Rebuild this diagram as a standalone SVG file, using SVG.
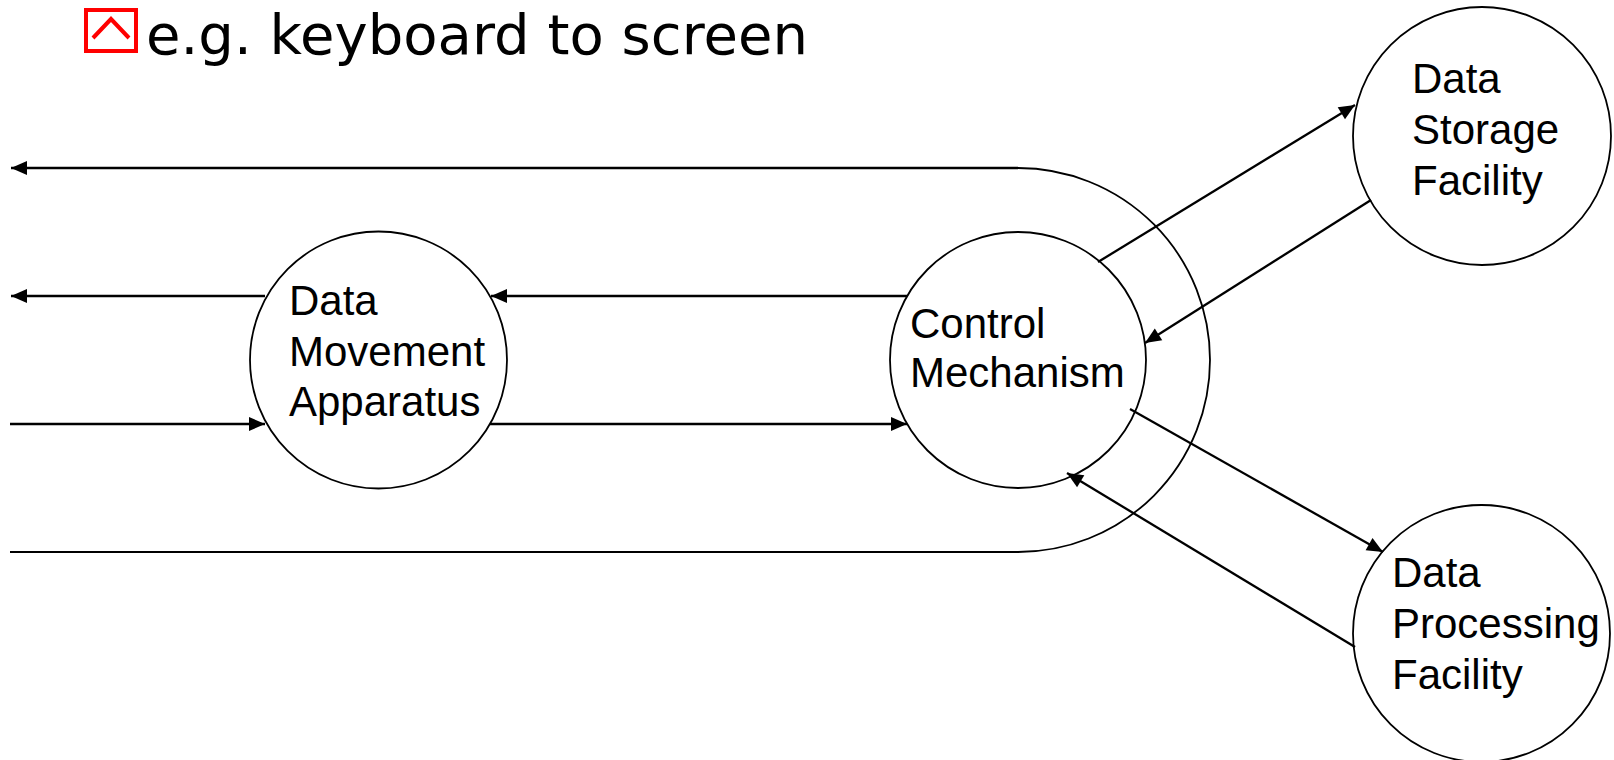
<svg xmlns="http://www.w3.org/2000/svg" width="1614" height="760" viewBox="0 0 1614 760">
<style>
.node{fill:none;stroke:#000;stroke-width:1.8}
.lbl{font-family:"Liberation Sans",Arial,sans-serif;font-size:42px;fill:#000}
.conn{fill:none;stroke:#000;stroke-width:2.3}
.thin{fill:none;stroke:#000;stroke-width:1.8}
.title{font-family:"DejaVu Sans",Verdana,sans-serif;font-size:56px;fill:#000}
</style>
<defs>
<marker id="ah" markerUnits="userSpaceOnUse" markerWidth="16" markerHeight="14" refX="16" refY="7" orient="auto" overflow="visible">
<path d="M0,0 L16,7 L0,14 z" fill="#000"/>
</marker>
</defs>
<g id="title">
<rect x="86" y="10" width="50" height="41" fill="none" stroke="#ff0000" stroke-width="4"/>
<polyline points="93,38 111,19 129,38" fill="none" stroke="#ff0000" stroke-width="4"/>
<text class="title" x="146" y="54" textLength="662" lengthAdjust="spacingAndGlyphs">e.g. keyboard to screen</text>
</g>
<g id="connectors">
<path class="thin" d="M1018,168 A192,192 0 0 1 1018,552"/>
<line class="conn" x1="1018" y1="168" x2="11" y2="168" marker-end="url(#ah)"/>
<line class="thin" x1="1018" y1="552" x2="10" y2="552"/>
<line class="conn" x1="907" y1="296" x2="491" y2="296" marker-end="url(#ah)"/>
<line class="conn" x1="265" y1="296" x2="11" y2="296" marker-end="url(#ah)"/>
<line class="conn" x1="10" y1="424" x2="265" y2="424" marker-end="url(#ah)"/>
<line class="conn" x1="490" y1="424" x2="907" y2="424" marker-end="url(#ah)"/>
<line class="conn" x1="1098" y1="262" x2="1355" y2="105" marker-end="url(#ah)"/>
<line class="conn" x1="1371" y1="200" x2="1145" y2="343" marker-end="url(#ah)"/>
<line class="conn" x1="1130" y1="409" x2="1383" y2="552" marker-end="url(#ah)"/>
<line class="conn" x1="1355" y1="647" x2="1067" y2="473" marker-end="url(#ah)"/>
</g>
<g id="data-movement">
<circle class="node" cx="378.5" cy="360" r="128.5"/>
<text class="lbl" x="289" y="315">Data</text>
<text class="lbl" x="289" y="366">Movement</text>
<text class="lbl" x="289" y="416">Apparatus</text>
</g>
<g id="control-mechanism">
<circle class="node" cx="1018" cy="360" r="128"/>
<text class="lbl" x="910" y="338">Control</text>
<text class="lbl" x="910" y="387">Mechanism</text>
</g>
<g id="data-storage">
<circle class="node" cx="1482" cy="136" r="129"/>
<text class="lbl" x="1412" y="93">Data</text>
<text class="lbl" x="1412" y="144">Storage</text>
<text class="lbl" x="1412" y="195">Facility</text>
</g>
<g id="data-processing">
<circle class="node" cx="1481.5" cy="633.5" r="128.5"/>
<text class="lbl" x="1392" y="587">Data</text>
<text class="lbl" x="1392" y="638">Processing</text>
<text class="lbl" x="1392" y="689">Facility</text>
</g>
</svg>
